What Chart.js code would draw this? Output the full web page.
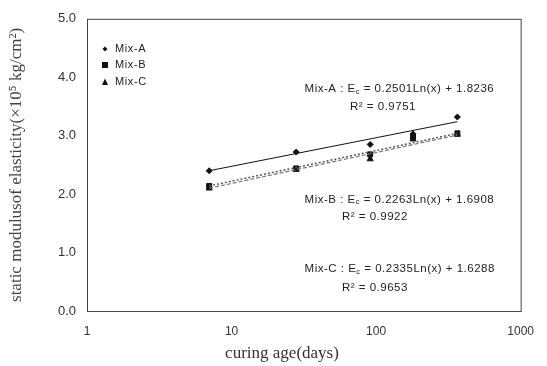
<!DOCTYPE html>
<html>
<head>
<meta charset="utf-8">
<script src="https://cdn.jsdelivr.net/npm/chart.js@4/dist/chart.umd.min.js"></script>
<style>
    body { margin: 0; background: #ffffff; }
    #wrap { width: 547px; height: 366px; position: relative; }
</style>
</head>
<body>
<div id="wrap"><canvas id="ageChart"></canvas></div>
<script>
// data
const curingDays = [7, 28, 91, 180, 365];
const mixA = [2.40, 2.72, 2.85, 3.03, 3.32];
const mixB = [2.14, 2.44, 2.68, 2.98, 3.04];
const mixC = [2.10, 2.42, 2.60, 2.94, 3.02];

const trendDays = [7, 365];
const trendA = [2.40, 3.24];
const trendB = [2.14, 3.04];
const trendC = [2.10, 3.01];

const seriesNames = ["Mix-A", "Mix-B", "Mix-C"];
const xTicks = [1, 10, 100, 1000];
const yTicks = [0, 1, 2, 3, 4, 5];

const eqTexts = [
    ["Mix-A : E", "c", " = 0.2501Ln(x) + 1.8236"],
    ["Mix-B : E", "c", " = 0.2263Ln(x) + 1.6908"],
    ["Mix-C : E", "c", " = 0.2335Ln(x) + 1.6288"]
];
const r2Texts = ["R\u00b2 = 0.9751", "R\u00b2 = 0.9922", "R\u00b2 = 0.9653"];

function pts(xs, ys)
{
    return xs.map((x, i) => ({ x: x, y: ys[i] }));
}

const markerStyles = ["rectRot", "rect", "triangle"];

// equation labels, anchored in data units
const eqAnchors = [
    { x: 32, y: 3.80, rx: 66, ry: 3.50 },
    { x: 32, y: 1.91, rx: 58, ry: 1.61 },
    { x: 32, y: 0.72, rx: 58, ry: 0.40 }
];

const EQ_FONT = "11.5px 'Liberation Sans', Arial, sans-serif";

const boxPlugin = {
    id: "boxPlugin",
    afterDraw(chart)
    {
        const ctx = chart.ctx;
        const a = chart.chartArea;
        const xs = chart.scales.x;
        const ys = chart.scales.y;

        ctx.save();
        ctx.strokeStyle = "#444";
        ctx.lineWidth = 1;
        ctx.strokeRect(a.left + 0.5, a.top + 0.5, a.right - a.left, a.bottom - a.top);

        // legend
        ctx.font = "11px 'Liberation Sans', Arial, sans-serif";
        ctx.letterSpacing = "0.6px";
        ctx.textBaseline = "middle";
        const legY = [49, 65, 82];
        seriesNames.forEach((name, i) =>
        {
            const mx = a.left + 18;
            const my = legY[i];
            drawMarker(ctx, markerStyles[i], mx, my, i === 0 ? 2.5 : 3);
            ctx.fillStyle = "#222";
            ctx.fillText(name, mx + 10, my);
        });

        // equations
        ctx.font = EQ_FONT;
        ctx.letterSpacing = "0.5px";
        eqTexts.forEach((parts, i) =>
        {
            let px = xs.getPixelForValue(eqAnchors[i].x);
            const py = ys.getPixelForValue(eqAnchors[i].y);
            parts.forEach((p, j) =>
            {
                if(j === 1)
                {
                    ctx.font = "7.5px 'Liberation Sans', Arial, sans-serif";
                    ctx.fillText(p, px, py + 3);
                    px += ctx.measureText(p).width;
                    ctx.font = EQ_FONT;
                }
                else
                {
                    ctx.fillText(p, px, py);
                    px += ctx.measureText(p).width;
                }
            });
            ctx.fillText(
                r2Texts[i],
                xs.getPixelForValue(eqAnchors[i].rx),
                ys.getPixelForValue(eqAnchors[i].ry)
            );
        });

        // x title
        ctx.letterSpacing = "0px";
        ctx.font = "17px 'Liberation Serif', 'Times New Roman', serif";
        ctx.fillStyle = "#333";
        ctx.textAlign = "center";
        ctx.fillText("curing age(days)", 282, 354);
        ctx.restore();
    }
};

function drawMarker(ctx, style, x, y, r)
{
    ctx.fillStyle = "#111";
    ctx.beginPath();
    if(style === "rectRot")
    {
        ctx.moveTo(x, y - r);
        ctx.lineTo(x + r, y);
        ctx.lineTo(x, y + r);
        ctx.lineTo(x - r, y);
    }
    else if(style === "rect")
    {
        ctx.rect(x - r, y - r, 2 * r, 2 * r);
    }
    else
    {
        ctx.moveTo(x, y - r - 0.5);
        ctx.lineTo(x + r, y + r);
        ctx.lineTo(x - r, y + r);
    }
    ctx.closePath();
    ctx.fill();
}

document.addEventListener("DOMContentLoaded", () =>
{
    const ctx = document.getElementById("ageChart").getContext("2d");

    new Chart(ctx, {
        type: "scatter",
        data: {
            datasets: [
                {
                    label: "trend A",
                    data: pts(trendDays, trendA),
                    showLine: true,
                    borderColor: "#111",
                    borderWidth: 1,
                    pointRadius: 0
                },
                {
                    label: "trend B",
                    data: pts(trendDays, trendB),
                    showLine: true,
                    borderColor: "#555",
                    borderWidth: 1.5,
                    borderDash: [2, 2],
                    pointRadius: 0
                },
                {
                    label: "trend C",
                    data: pts(trendDays, trendC),
                    showLine: true,
                    borderColor: "#777",
                    borderWidth: 1.2,
                    borderDash: [4, 2],
                    pointRadius: 0
                },
                {
                    label: seriesNames[0],
                    data: pts(curingDays, mixA),
                    pointStyle: "rectRot",
                    pointRadius: 3,
                    backgroundColor: "#111",
                    borderColor: "#111"
                },
                {
                    label: seriesNames[1],
                    data: pts(curingDays, mixB),
                    pointStyle: "rect",
                    pointRadius: 3.5,
                    backgroundColor: "#111",
                    borderColor: "#111"
                },
                {
                    label: seriesNames[2],
                    data: pts(curingDays, mixC),
                    pointStyle: "triangle",
                    pointRadius: 3.5,
                    backgroundColor: "#111",
                    borderColor: "#111"
                }
            ]
        },
        options: {
            responsive: true,
            maintainAspectRatio: false,
            animation: false,
            layout: {
                padding: { top: 12, right: 26, left: 0, bottom: 0 }
            },
            plugins: {
                legend: { display: false },
                tooltip: { enabled: false }
            },
            scales: {
                x: {
                    type: "logarithmic",
                    min: 1,
                    max: 1000,
                    grid: { display: false, drawTicks: false },
                    border: { display: false },
                    afterBuildTicks: (scale) =>
                    {
                        scale.ticks = xTicks.map(v => ({ value: v }));
                    },
                    afterFit: (scale) =>
                    {
                        scale.height = 55;
                    },
                    ticks: {
                        padding: 13,
                        maxRotation: 0,
                        color: "#333",
                        font: { family: "'Liberation Sans', Arial, sans-serif", size: 12 },
                        callback: (v) => String(v)
                    }
                },
                y: {
                    min: 0,
                    max: 5,
                    grid: { display: false, drawTicks: false },
                    border: { display: false },
                    afterBuildTicks: (scale) =>
                    {
                        scale.ticks = yTicks.map(v => ({ value: v }));
                    },
                    afterFit: (scale) =>
                    {
                        scale.width = 87;
                    },
                    ticks: {
                        padding: 11,
                        color: "#333",
                        font: { family: "'Liberation Sans', Arial, sans-serif", size: 13 },
                        callback: (v) => Number(v).toFixed(1)
                    },
                    title: {
                        display: true,
                        text: "static modulusof elasticity(\u00d710\u2075 kg/cm\u00b2)",
                        color: "#444",
                        padding: { top: 6, bottom: 0 },
                        font: { family: "'Liberation Serif', 'Times New Roman', serif", size: 17 }
                    }
                }
            }
        },
        plugins: [boxPlugin]
    });
});
</script>
</body>
</html>
